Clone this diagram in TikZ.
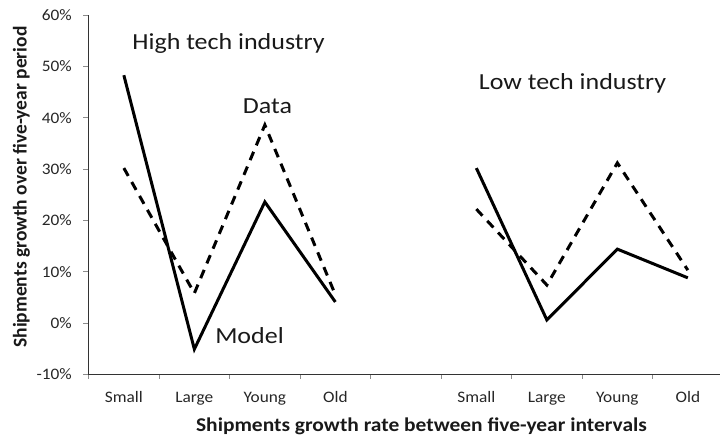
\documentclass[tikz,border=0pt]{standalone}
\usepackage{fontspec}
\setmainfont{Carlito}

\tikzset{
  axisline/.style={draw=black!80, line width=0.9pt},
  tickmark/.style={draw=black!45, line width=0.9pt},
  ticklab/.style={font=\fontsize{16}{19}\selectfont, text=black!85, xscale=1.08, inner sep=0pt},
  bigtxt/.style={font=\fontsize{23}{27}\selectfont, text=black!90, xscale=1.13, inner sep=0pt, anchor=base},
  axtitle/.style={font=\fontsize{19.5}{23}\selectfont\bfseries, text=black!90, inner sep=0pt},
  modelline/.style={line width=3pt},
  dataline/.style={line width=3pt, dash pattern=on 9pt off 7pt},
}

\begin{document}
\begin{tikzpicture}[x=1pt, y=-1pt]
\useasboundingbox (0,0) rectangle (720,436);

% axes and data, in category / percent units
\begin{scope}[shift={(88.6,374.3)}, x=70.5pt, y=5.13pt]
  \coordinate (o) at (0,0);
  \coordinate (ytop) at (0,70);
  \coordinate (xend) at (9,0);

  \foreach \v in {-10,0,...,60} {
    \draw[tickmark] (0,\v+10) -- ++(-6pt,0);
    \node[ticklab, anchor=east] (yl\v) at ([xshift=-16.6pt]0,\v+10) {\v\%};
  }
  \foreach \k in {0,...,9}
    \draw[tickmark] (\k,0) -- ++(0,-5pt);
  \draw[axisline] (ytop) -- (o) -- (xend);

  \foreach \c [count=\i] in {Small,Large,Young,Old} {
    \node[ticklab, anchor=base] (hc\i) at ([yshift=-28.2pt]\i-0.5,0) {\c};
    \node[ticklab, anchor=base] (lc\i) at ([yshift=-28.2pt]\i+4.5,0) {\c};
  }

  % high tech
  \foreach \v [count=\i] in {48.3,-5.1,23.6,4.1}
    \coordinate (hm\i) at (\i-0.5,\v+10);
  \foreach \v [count=\i] in {30.2,5.8,38.6,5.5}
    \coordinate (hd\i) at (\i-0.5,\v+10);
  % low tech
  \foreach \v [count=\i] in {30.2,0.6,14.4,8.8}
    \coordinate (lm\i) at (\i+4.5,\v+10);
  \foreach \v [count=\i] in {22.2,7.4,31.2,10.3}
    \coordinate (ld\i) at (\i+4.5,\v+10);

  \draw[dataline] (hd1) -- (hd2) -- (hd3) -- (hd4);
  \draw[modelline] (hm1) -- (hm2) -- (hm3) -- (hm4);
  \draw[dataline] (ld1) -- (ld2) -- (ld3) -- (ld4);
  \draw[modelline] (lm1) -- (lm2) -- (lm3) -- (lm4);
\end{scope}

\node[bigtxt] (hightxt) at (228.5,50) {High tech industry};
\node[bigtxt] (lowtxt) at (572.5,89) {Low tech industry};
\node[bigtxt] (datatxt) at (267.5,113) {Data};
\node[bigtxt] (modeltxt) at (249.5,343) {Model};

\node[axtitle, rotate=90] (ytitle) at (21.5,187) {Shipments growth over five-year period};
\node[axtitle, anchor=base, xscale=1.1] (xtitle) at (421.5,431) {Shipments growth rate between five-year intervals};
\end{tikzpicture}
\end{document}
